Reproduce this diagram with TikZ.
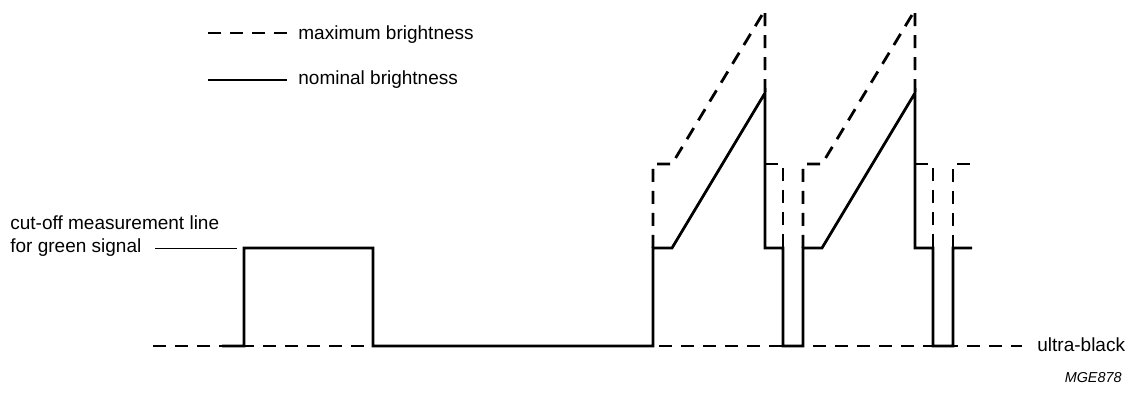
\documentclass[tikz,border=0pt]{standalone}
\usepackage{fontspec}
\setmainfont{Liberation Sans}
\usetikzlibrary{positioning}

\begin{document}
\begin{tikzpicture}[x=0.5pt,y=-0.5pt,line join=miter,
  sig/.style={line width=1.4pt},
  maxsig/.style={line width=1.4pt,dash pattern=on 6.5pt off 4.5pt},
  ref/.style={line width=0.6pt,dash pattern=on 6.5pt off 4.5pt},
  lead/.style={line width=0.4pt},
  lbl/.style={font=\fontsize{9.5}{11}\selectfont,inner sep=0pt,anchor=base west}]
\useasboundingbox (0,0) rectangle (1133,394);
% legend
\draw[maxsig] (208,33)--(287,33);
\draw[sig] (208,80)--(287,80);
\node[lbl] (maxtxt) at (298,40) {maximum brightness};
\node[lbl] (nomtxt) at (298,85) {nominal brightness};
% ultra-black level
\draw[ref] (153,346)--(1022,346);
\node[lbl] (ublack) at (1037,352) {ultra-black};
% nominal signal
\draw[sig] (222,346)--(244,346)--(244,248)--(373,248)--(373,346)--(653,346)--(653,248)--(672,248)--(765,93)--(765,248)--(783,248)--(783,346)--(803,346)--(803,248)--(822,248)--(915,93)--(915,248)--(933,248)--(933,346)--(953,346)--(953,248)--(972,248);
% maximum signal
\draw[maxsig] (653,248)--(653,164)--(672,164)--(765,10)--(765,93);
\draw[maxsig] (765,164)--(783,164)--(783,248);
\draw[maxsig] (803,248)--(803,164)--(822,164)--(915,10)--(915,93);
\draw[maxsig] (915,164)--(933,164)--(933,248);
\draw[maxsig] (953,248)--(953,164)--(972,164);
% cut-off label
\node[lbl] (cuttxt) at (10,230) {cut-off measurement line};
\node[lbl] (greentxt) at (10,252.5) {for green signal};
\coordinate (leadstart) at (155,248);
\coordinate (leadend) at (237,248);
\draw[lead] (leadstart)--(leadend);
\node[font=\fontsize{7.2}{9}\selectfont\itshape,inner sep=0pt,anchor=base east] (figid) at (1122,383) {MGE878};
\end{tikzpicture}
\end{document}
